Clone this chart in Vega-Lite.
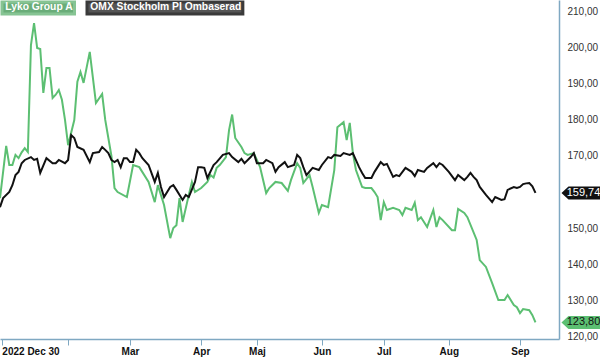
{
  "$schema": "https://vega.github.io/schema/vega-lite/v6.json",
  "width": 559,
  "height": 339,
  "autosize": {"type": "none"},
  "padding": {"left": 0, "top": 0, "right": 41, "bottom": 19},
  "background": "white",
  "config": {
    "font": "Liberation Sans",
    "view": {"stroke": null},
    "locale": {"number": {"decimal": ",", "thousands": "\u00a0", "grouping": [3], "currency": ["", " kr"]}}
  },
  "datasets": {
    "px": [
      {"t":0,"s":"Lyko Group A","v":158.3},{"t":2,"s":"Lyko Group A","v":172.8},{"t":3,"s":"Lyko Group A","v":167.5},{"t":4,"s":"Lyko Group A","v":167.5},{"t":5,"s":"Lyko Group A","v":170.3},{"t":6,"s":"Lyko Group A","v":169.4},{"t":7,"s":"Lyko Group A","v":171},{"t":8,"s":"Lyko Group A","v":172.2},{"t":9,"s":"Lyko Group A","v":171.1},{"t":10,"s":"Lyko Group A","v":200.8},{"t":11,"s":"Lyko Group A","v":206.9},{"t":12,"s":"Lyko Group A","v":200},{"t":13,"s":"Lyko Group A","v":199.7},{"t":14,"s":"Lyko Group A","v":187.5},{"t":15,"s":"Lyko Group A","v":194.4},{"t":16,"s":"Lyko Group A","v":194.4},{"t":17,"s":"Lyko Group A","v":186.1},{"t":18,"s":"Lyko Group A","v":187},{"t":19,"s":"Lyko Group A","v":188.3},{"t":20,"s":"Lyko Group A","v":185.6},{"t":21,"s":"Lyko Group A","v":180},{"t":22,"s":"Lyko Group A","v":173},{"t":24,"s":"Lyko Group A","v":180},{"t":25,"s":"Lyko Group A","v":190.6},{"t":26,"s":"Lyko Group A","v":193.3},{"t":27,"s":"Lyko Group A","v":190.3},{"t":29,"s":"Lyko Group A","v":198.9},{"t":31,"s":"Lyko Group A","v":184.7},{"t":33,"s":"Lyko Group A","v":187.2},{"t":34,"s":"Lyko Group A","v":180},{"t":36,"s":"Lyko Group A","v":170},{"t":37,"s":"Lyko Group A","v":161.1},{"t":38,"s":"Lyko Group A","v":160},{"t":41,"s":"Lyko Group A","v":158.6},{"t":43,"s":"Lyko Group A","v":167.5},{"t":45,"s":"Lyko Group A","v":166.9},{"t":48,"s":"Lyko Group A","v":162.8},{"t":50,"s":"Lyko Group A","v":157.2},{"t":51,"s":"Lyko Group A","v":161.9},{"t":53,"s":"Lyko Group A","v":156.4},{"t":55,"s":"Lyko Group A","v":147.2},{"t":56,"s":"Lyko Group A","v":150},{"t":57,"s":"Lyko Group A","v":150.8},{"t":58,"s":"Lyko Group A","v":158.3},{"t":59,"s":"Lyko Group A","v":151.7},{"t":61,"s":"Lyko Group A","v":159.2},{"t":62,"s":"Lyko Group A","v":162.8},{"t":63,"s":"Lyko Group A","v":160},{"t":65,"s":"Lyko Group A","v":161.1},{"t":67,"s":"Lyko Group A","v":162.8},{"t":68,"s":"Lyko Group A","v":164.7},{"t":69,"s":"Lyko Group A","v":164},{"t":70,"s":"Lyko Group A","v":166.7},{"t":71,"s":"Lyko Group A","v":167.5},{"t":73,"s":"Lyko Group A","v":169.7},{"t":74,"s":"Lyko Group A","v":177.2},{"t":75,"s":"Lyko Group A","v":181.5},{"t":76,"s":"Lyko Group A","v":175},{"t":78,"s":"Lyko Group A","v":172.5},{"t":79,"s":"Lyko Group A","v":170.8},{"t":80,"s":"Lyko Group A","v":170.3},{"t":82,"s":"Lyko Group A","v":170.8},{"t":84,"s":"Lyko Group A","v":167},{"t":86,"s":"Lyko Group A","v":159.7},{"t":87,"s":"Lyko Group A","v":161.1},{"t":89,"s":"Lyko Group A","v":162.8},{"t":91,"s":"Lyko Group A","v":162.5},{"t":93,"s":"Lyko Group A","v":160.3},{"t":94,"s":"Lyko Group A","v":163.3},{"t":96,"s":"Lyko Group A","v":168},{"t":97,"s":"Lyko Group A","v":166.7},{"t":98,"s":"Lyko Group A","v":162.5},{"t":100,"s":"Lyko Group A","v":164.7},{"t":101,"s":"Lyko Group A","v":161.4},{"t":103,"s":"Lyko Group A","v":154.2},{"t":104,"s":"Lyko Group A","v":156.4},{"t":106,"s":"Lyko Group A","v":155.8},{"t":108,"s":"Lyko Group A","v":166.1},{"t":109,"s":"Lyko Group A","v":178},{"t":111,"s":"Lyko Group A","v":179.4},{"t":112,"s":"Lyko Group A","v":174.4},{"t":113,"s":"Lyko Group A","v":179.2},{"t":114,"s":"Lyko Group A","v":170.8},{"t":115,"s":"Lyko Group A","v":166.1},{"t":117,"s":"Lyko Group A","v":161.4},{"t":118,"s":"Lyko Group A","v":161.1},{"t":120,"s":"Lyko Group A","v":161.1},{"t":121,"s":"Lyko Group A","v":160},{"t":122,"s":"Lyko Group A","v":158.6},{"t":123,"s":"Lyko Group A","v":152.2},{"t":124,"s":"Lyko Group A","v":157.2},{"t":125,"s":"Lyko Group A","v":155},{"t":127,"s":"Lyko Group A","v":155.6},{"t":129,"s":"Lyko Group A","v":155},{"t":130,"s":"Lyko Group A","v":153.6},{"t":131,"s":"Lyko Group A","v":155.6},{"t":133,"s":"Lyko Group A","v":155},{"t":134,"s":"Lyko Group A","v":157},{"t":135,"s":"Lyko Group A","v":152.2},{"t":136,"s":"Lyko Group A","v":153},{"t":138,"s":"Lyko Group A","v":150.3},{"t":140,"s":"Lyko Group A","v":155},{"t":141,"s":"Lyko Group A","v":150.3},{"t":142,"s":"Lyko Group A","v":153},{"t":143,"s":"Lyko Group A","v":152.2},{"t":146,"s":"Lyko Group A","v":149.4},{"t":147,"s":"Lyko Group A","v":149.4},{"t":148,"s":"Lyko Group A","v":155.3},{"t":150,"s":"Lyko Group A","v":154.2},{"t":151,"s":"Lyko Group A","v":153},{"t":154,"s":"Lyko Group A","v":146.7},{"t":155,"s":"Lyko Group A","v":141.1},{"t":157,"s":"Lyko Group A","v":139.2},{"t":159,"s":"Lyko Group A","v":134.7},{"t":161,"s":"Lyko Group A","v":130},{"t":163,"s":"Lyko Group A","v":130},{"t":164,"s":"Lyko Group A","v":131.4},{"t":166,"s":"Lyko Group A","v":128.6},{"t":167,"s":"Lyko Group A","v":128},{"t":168,"s":"Lyko Group A","v":126.4},{"t":169,"s":"Lyko Group A","v":127.5},{"t":171,"s":"Lyko Group A","v":127.2},{"t":172,"s":"Lyko Group A","v":125.8},{"t":173,"s":"Lyko Group A","v":123.8},
      {"t":0,"s":"OMX Stockholm PI Ombaserad","v":155.8},{"t":1,"s":"OMX Stockholm PI Ombaserad","v":158.3},{"t":3,"s":"OMX Stockholm PI Ombaserad","v":160},{"t":4,"s":"OMX Stockholm PI Ombaserad","v":161.9},{"t":5,"s":"OMX Stockholm PI Ombaserad","v":164.7},{"t":6,"s":"OMX Stockholm PI Ombaserad","v":165.6},{"t":7,"s":"OMX Stockholm PI Ombaserad","v":168},{"t":8,"s":"OMX Stockholm PI Ombaserad","v":168.9},{"t":10,"s":"OMX Stockholm PI Ombaserad","v":169.7},{"t":11,"s":"OMX Stockholm PI Ombaserad","v":168.9},{"t":12,"s":"OMX Stockholm PI Ombaserad","v":169.2},{"t":13,"s":"OMX Stockholm PI Ombaserad","v":165.3},{"t":15,"s":"OMX Stockholm PI Ombaserad","v":169.4},{"t":17,"s":"OMX Stockholm PI Ombaserad","v":168},{"t":18,"s":"OMX Stockholm PI Ombaserad","v":168},{"t":19,"s":"OMX Stockholm PI Ombaserad","v":168.9},{"t":21,"s":"OMX Stockholm PI Ombaserad","v":168},{"t":22,"s":"OMX Stockholm PI Ombaserad","v":168.9},{"t":23,"s":"OMX Stockholm PI Ombaserad","v":175.8},{"t":24,"s":"OMX Stockholm PI Ombaserad","v":175},{"t":25,"s":"OMX Stockholm PI Ombaserad","v":172.5},{"t":27,"s":"OMX Stockholm PI Ombaserad","v":171.7},{"t":29,"s":"OMX Stockholm PI Ombaserad","v":168.3},{"t":30,"s":"OMX Stockholm PI Ombaserad","v":170.8},{"t":32,"s":"OMX Stockholm PI Ombaserad","v":171.1},{"t":33,"s":"OMX Stockholm PI Ombaserad","v":172.5},{"t":34,"s":"OMX Stockholm PI Ombaserad","v":171.7},{"t":35,"s":"OMX Stockholm PI Ombaserad","v":170.8},{"t":36,"s":"OMX Stockholm PI Ombaserad","v":168.9},{"t":37,"s":"OMX Stockholm PI Ombaserad","v":168.3},{"t":38,"s":"OMX Stockholm PI Ombaserad","v":168.9},{"t":39,"s":"OMX Stockholm PI Ombaserad","v":166.9},{"t":40,"s":"OMX Stockholm PI Ombaserad","v":169.4},{"t":41,"s":"OMX Stockholm PI Ombaserad","v":169.4},{"t":42,"s":"OMX Stockholm PI Ombaserad","v":168.3},{"t":43,"s":"OMX Stockholm PI Ombaserad","v":168.3},{"t":44,"s":"OMX Stockholm PI Ombaserad","v":171.7},{"t":45,"s":"OMX Stockholm PI Ombaserad","v":170.8},{"t":46,"s":"OMX Stockholm PI Ombaserad","v":169.4},{"t":48,"s":"OMX Stockholm PI Ombaserad","v":167.5},{"t":50,"s":"OMX Stockholm PI Ombaserad","v":162.8},{"t":51,"s":"OMX Stockholm PI Ombaserad","v":165.3},{"t":52,"s":"OMX Stockholm PI Ombaserad","v":161.4},{"t":53,"s":"OMX Stockholm PI Ombaserad","v":158.6},{"t":55,"s":"OMX Stockholm PI Ombaserad","v":161.4},{"t":56,"s":"OMX Stockholm PI Ombaserad","v":161.9},{"t":57,"s":"OMX Stockholm PI Ombaserad","v":160.6},{"t":59,"s":"OMX Stockholm PI Ombaserad","v":157.8},{"t":60,"s":"OMX Stockholm PI Ombaserad","v":159.2},{"t":61,"s":"OMX Stockholm PI Ombaserad","v":158.6},{"t":63,"s":"OMX Stockholm PI Ombaserad","v":162.8},{"t":64,"s":"OMX Stockholm PI Ombaserad","v":166.9},{"t":65,"s":"OMX Stockholm PI Ombaserad","v":166.9},{"t":66,"s":"OMX Stockholm PI Ombaserad","v":166.7},{"t":67,"s":"OMX Stockholm PI Ombaserad","v":163.9},{"t":69,"s":"OMX Stockholm PI Ombaserad","v":167.5},{"t":70,"s":"OMX Stockholm PI Ombaserad","v":168.3},{"t":72,"s":"OMX Stockholm PI Ombaserad","v":170.3},{"t":74,"s":"OMX Stockholm PI Ombaserad","v":170.8},{"t":75,"s":"OMX Stockholm PI Ombaserad","v":169.7},{"t":77,"s":"OMX Stockholm PI Ombaserad","v":168.3},{"t":78,"s":"OMX Stockholm PI Ombaserad","v":169.2},{"t":79,"s":"OMX Stockholm PI Ombaserad","v":168},{"t":81,"s":"OMX Stockholm PI Ombaserad","v":169.7},{"t":82,"s":"OMX Stockholm PI Ombaserad","v":170.8},{"t":83,"s":"OMX Stockholm PI Ombaserad","v":168},{"t":85,"s":"OMX Stockholm PI Ombaserad","v":168},{"t":86,"s":"OMX Stockholm PI Ombaserad","v":168.9},{"t":88,"s":"OMX Stockholm PI Ombaserad","v":168},{"t":89,"s":"OMX Stockholm PI Ombaserad","v":165.6},{"t":90,"s":"OMX Stockholm PI Ombaserad","v":166.9},{"t":92,"s":"OMX Stockholm PI Ombaserad","v":168.3},{"t":93,"s":"OMX Stockholm PI Ombaserad","v":166.9},{"t":95,"s":"OMX Stockholm PI Ombaserad","v":167.5},{"t":96,"s":"OMX Stockholm PI Ombaserad","v":170.3},{"t":97,"s":"OMX Stockholm PI Ombaserad","v":169.4},{"t":98,"s":"OMX Stockholm PI Ombaserad","v":166.9},{"t":99,"s":"OMX Stockholm PI Ombaserad","v":164.7},{"t":101,"s":"OMX Stockholm PI Ombaserad","v":166.7},{"t":103,"s":"OMX Stockholm PI Ombaserad","v":166.1},{"t":104,"s":"OMX Stockholm PI Ombaserad","v":167.5},{"t":106,"s":"OMX Stockholm PI Ombaserad","v":169.7},{"t":107,"s":"OMX Stockholm PI Ombaserad","v":169.4},{"t":108,"s":"OMX Stockholm PI Ombaserad","v":170.3},{"t":110,"s":"OMX Stockholm PI Ombaserad","v":170},{"t":111,"s":"OMX Stockholm PI Ombaserad","v":170.8},{"t":113,"s":"OMX Stockholm PI Ombaserad","v":170.3},{"t":114,"s":"OMX Stockholm PI Ombaserad","v":170.8},{"t":116,"s":"OMX Stockholm PI Ombaserad","v":166.9},{"t":117,"s":"OMX Stockholm PI Ombaserad","v":165.3},{"t":118,"s":"OMX Stockholm PI Ombaserad","v":163.9},{"t":120,"s":"OMX Stockholm PI Ombaserad","v":163.9},{"t":121,"s":"OMX Stockholm PI Ombaserad","v":165.6},{"t":123,"s":"OMX Stockholm PI Ombaserad","v":168.3},{"t":124,"s":"OMX Stockholm PI Ombaserad","v":167.5},{"t":125,"s":"OMX Stockholm PI Ombaserad","v":167.8},{"t":127,"s":"OMX Stockholm PI Ombaserad","v":164.2},{"t":128,"s":"OMX Stockholm PI Ombaserad","v":164.7},{"t":129,"s":"OMX Stockholm PI Ombaserad","v":164.4},{"t":131,"s":"OMX Stockholm PI Ombaserad","v":166.7},{"t":133,"s":"OMX Stockholm PI Ombaserad","v":165.6},{"t":134,"s":"OMX Stockholm PI Ombaserad","v":164.4},{"t":135,"s":"OMX Stockholm PI Ombaserad","v":166.1},{"t":137,"s":"OMX Stockholm PI Ombaserad","v":165.6},{"t":138,"s":"OMX Stockholm PI Ombaserad","v":166.7},{"t":140,"s":"OMX Stockholm PI Ombaserad","v":168},{"t":141,"s":"OMX Stockholm PI Ombaserad","v":166.9},{"t":142,"s":"OMX Stockholm PI Ombaserad","v":168},{"t":143,"s":"OMX Stockholm PI Ombaserad","v":167.5},{"t":145,"s":"OMX Stockholm PI Ombaserad","v":165.6},{"t":147,"s":"OMX Stockholm PI Ombaserad","v":163.3},{"t":148,"s":"OMX Stockholm PI Ombaserad","v":164.7},{"t":150,"s":"OMX Stockholm PI Ombaserad","v":163.3},{"t":151,"s":"OMX Stockholm PI Ombaserad","v":164.2},{"t":152,"s":"OMX Stockholm PI Ombaserad","v":165.3},{"t":153,"s":"OMX Stockholm PI Ombaserad","v":164.2},{"t":154,"s":"OMX Stockholm PI Ombaserad","v":163.3},{"t":155,"s":"OMX Stockholm PI Ombaserad","v":161.4},{"t":157,"s":"OMX Stockholm PI Ombaserad","v":159.2},{"t":159,"s":"OMX Stockholm PI Ombaserad","v":157.2},{"t":160,"s":"OMX Stockholm PI Ombaserad","v":158.6},{"t":162,"s":"OMX Stockholm PI Ombaserad","v":157.8},{"t":163,"s":"OMX Stockholm PI Ombaserad","v":158},{"t":164,"s":"OMX Stockholm PI Ombaserad","v":160.6},{"t":166,"s":"OMX Stockholm PI Ombaserad","v":161.4},{"t":167,"s":"OMX Stockholm PI Ombaserad","v":161.1},{"t":168,"s":"OMX Stockholm PI Ombaserad","v":161.4},{"t":169,"s":"OMX Stockholm PI Ombaserad","v":162.2},{"t":170,"s":"OMX Stockholm PI Ombaserad","v":162.4},{"t":171,"s":"OMX Stockholm PI Ombaserad","v":162.5},{"t":172,"s":"OMX Stockholm PI Ombaserad","v":161.6},{"t":173,"s":"OMX Stockholm PI Ombaserad","v":159.74}
    ]
  },
  "data": {"name": "px"},
  "encoding": {
    "x": {
      "field": "t", "type": "quantitative",
      "scale": {"domain": [0, 180.6], "nice": false, "zero": false},
      "axis": {
        "title": null, "grid": false,
        "values": [0.6, 22, 42, 65, 83, 104, 124, 145, 168],
        "labelExpr": "datum.value < 5 ? '2022 Dec 30' : datum.value == 42 ? 'Mar' : datum.value == 65 ? 'Apr' : datum.value == 83 ? 'Maj' : datum.value == 104 ? 'Jun' : datum.value == 124 ? 'Jul' : datum.value == 145 ? 'Aug' : datum.value == 168 ? 'Sep' : ''",
        "labelAlign": {"condition": {"test": "datum.value < 5", "value": "left"}, "value": "center"},
        "labelOverlap": false, "labelFlush": false, "labelBound": false,
        "labelFontWeight": "bold", "labelFontSize": 10, "labelColor": "#111111", "labelPadding": 1,
        "domainColor": "#7fa8c2", "tickColor": "#7fa8c2", "tickSize": 6, "domainWidth": 1.5
      }
    },
    "y": {
      "field": "v", "type": "quantitative",
      "scale": {"domain": [119.2, 213.3], "nice": false, "zero": false},
      "axis": {
        "orient": "right", "title": null, "grid": false,
        "values": [120, 130, 140, 150, 170, 180, 190, 200, 210],
        "format": ".2f", "ticks": false,
        "labelFontSize": 10, "labelColor": "#333333", "labelPadding": 8,
        "domainColor": "#7fa8c2", "domainWidth": 1.5
      }
    },
    "color": {
      "field": "s", "type": "nominal",
      "scale": {"domain": ["Lyko Group A", "OMX Stockholm PI Ombaserad"], "range": ["#5cbf72", "#111111"]},
      "legend": {
        "orient": "top-left", "direction": "horizontal", "title": null,
        "offset": 2, "padding": 0, "symbolSize": 0, "symbolStrokeWidth": 0, "symbolOpacity": 0,
        "labelOffset": -7, "labelColor": "white", "labelFontWeight": "bold", "labelFontSize": 10.3,
        "labelLimit": 400, "columnPadding": 12,
        "encode": {"entries": {"update": {
          "fill": {"signal": "datum.index === 0 ? '#6aad79' : '#555555'"},
          "stroke": {"signal": "datum.index === 0 ? '#86c493' : '#3a3a3a'"},
          "strokeWidth": {"value": 3}
        }}}
      }
    }
  },
  "layer": [
    {"mark": {"type": "line", "strokeWidth": 2, "interpolate": "linear"}},
    {
      "transform": [{"filter": "datum.t == 173"}],
      "mark": {"type": "point", "filled": true, "opacity": 1, "size": 4, "shape": "M26,0L33,-6.5L66,-6.5L66,6.5L33,6.5Z"}
    },
    {
      "transform": [{"filter": "datum.t == 173"}],
      "mark": {"type": "text", "dx": 48, "fontSize": 11, "align": "center", "baseline": "middle"},
      "encoding": {
        "text": {"field": "v", "type": "quantitative", "format": ".2f"},
        "color": {"condition": {"test": "datum.s === 'Lyko Group A'", "value": "#111111"}, "value": "#ffffff"}
      }
    }
  ]
}
